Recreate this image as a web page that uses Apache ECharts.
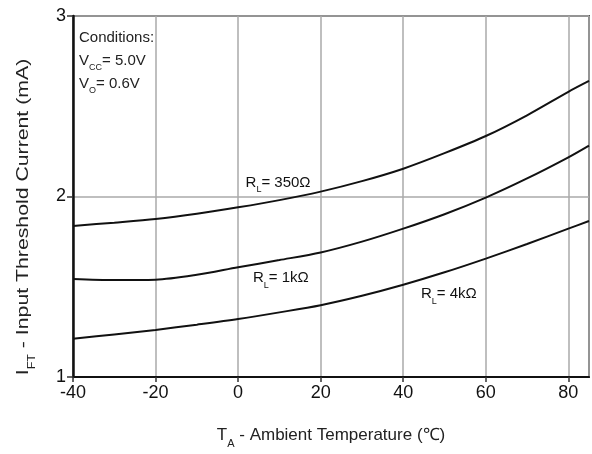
<!DOCTYPE html>
<html>
<head>
<meta charset="utf-8">
<script src="https://cdn.jsdelivr.net/npm/echarts@6/dist/echarts.min.js"></script>
<style>
html,body{margin:0;padding:0;background:#fff;}
#main{width:592px;height:454px;}
</style>
</head>
<body>
<div id="main"></div>
<script>
// temperatures (degC)
var temps = [-40, -30, -20, -10, 0, 10, 20, 30, 40, 50, 60, 70, 80, 85];
// input threshold current (mA) for each load
var rl350 = [1.837, 1.855, 1.875, 1.904, 1.940, 1.980, 2.027, 2.085, 2.154, 2.240, 2.335, 2.450, 2.580, 2.640];
var rl1k  = [1.543, 1.537, 1.539, 1.566, 1.608, 1.648, 1.690, 1.750, 1.822, 1.902, 1.994, 2.100, 2.217, 2.282];
var rl4k  = [1.212, 1.236, 1.261, 1.290, 1.321, 1.358, 1.398, 1.450, 1.511, 1.580, 1.656, 1.737, 1.822, 1.864];
// curve labels: [temp, current]
var labelText = ['{m|R}{s|L}{m|= 350\u03A9}', '{m|R}{s|L}{m|= 1k\u03A9}', '{m|R}{s|L}{m|= 4k\u03A9}'];
var labelPos = [[1.8, 2.085], [3.6, 1.555], [44.3, 1.468]];

function pairs(ys){
	var out=[];
	for(var i=0;i<temps.length;i++){ out.push([temps[i], ys[i]]); }
	return out;
}

var FONT = 'Liberation Sans';
var richTxt = {
	m: {fontSize: 15, color: '#111', fontFamily: FONT, verticalAlign: 'bottom', lineHeight: 18, textBorderWidth: 0},
	s: {fontSize: 9, color: '#111', fontFamily: FONT, verticalAlign: 'bottom', lineHeight: 18, padding: [0, 0, -4, 0], textBorderWidth: 0}
};
var richX = {
	m: {fontSize: 17, color: '#222', fontFamily: FONT, verticalAlign: 'bottom', lineHeight: 20},
	s: {fontSize: 11, color: '#222', fontFamily: FONT, verticalAlign: 'bottom', lineHeight: 20, padding: [0, 0, -5, 0]}
};

var lineStyle = {color: '#111', width: 2};
var labelData = [];
for(var k=0;k<labelPos.length;k++){
	labelData.push({value: labelPos[k], label: {formatter: labelText[k]}});
}

var myChart = echarts.init(document.getElementById('main'));
var option = {
	animation: false,
	textStyle: {fontFamily: FONT},
	grid: {left: 73, right: 3, top: 16, bottom: 70, show: true, borderColor: '#555', borderWidth: 2},
	xAxis: [{
		type: 'value',
		min: -40, max: 85, interval: 20,
		axisLine: {onZero: false, lineStyle: {color: '#111', width: 2}},
		axisTick: {show: true, length: 5, lineStyle: {color: '#333', width: 1.5}},
		axisLabel: {fontSize: 18, color: '#111', margin: 7, showMaxLabel: false, fontFamily: FONT},
		splitLine: {show: true, lineStyle: {color: '#aaa', width: 1.5}},
		name: '{m|T}{s|A}{m| - Ambient Temperature (\u2103)}',
		nameLocation: 'middle', nameGap: 47,
		nameTextStyle: {rich: richX}
	}],
	yAxis: [{
		type: 'value',
		min: 1, max: 3, interval: 1,
		axisLine: {show: true, onZero: false, lineStyle: {color: '#111', width: 2.5}},
		axisTick: {show: true, length: 6, lineStyle: {color: '#333', width: 1.5}},
		axisLabel: {fontSize: 18, color: '#111', margin: 7, fontFamily: FONT},
		splitLine: {show: true, lineStyle: {color: '#aaa', width: 1.5}}
	}],
	graphic: [{
		type: 'text', left: 79, top: 30,
		style: {
			text: '{m|Conditions:}\n{m|V}{s|CC}{m|= 5.0V}\n{m|V}{s|O}{m|= 0.6V}',
			rich: {
				m: {fontSize: 15, fill: '#222', fontFamily: FONT, lineHeight: 23, verticalAlign: 'bottom'},
				s: {fontSize: 9, fill: '#222', fontFamily: FONT, lineHeight: 23, verticalAlign: 'bottom', padding: [0, 0, -4, 0]}
			}
		}
	}, {
		// y axis title, stretched along its length like the original
		type: 'text', x: 22, y: 217, rotation: Math.PI / 2, scaleX: 1.25, scaleY: 1,
		style: {
			text: '{m|I}{s|FT}{m| - Input Threshold Current (mA)}',
			align: 'center', verticalAlign: 'middle',
			rich: {
				m: {fontSize: 17, fill: '#222', fontFamily: FONT, lineHeight: 20, verticalAlign: 'bottom'},
				s: {fontSize: 10, fill: '#222', fontFamily: FONT, lineHeight: 20, verticalAlign: 'bottom', padding: [0, 0, -5, 0]}
			}
		}
	}],
	series: [
		{name: '350', type: 'line', smooth: 0.3, symbol: 'none', lineStyle: lineStyle, data: pairs(rl350)},
		{name: '1k', type: 'line', smooth: 0.3, symbol: 'none', lineStyle: lineStyle, data: pairs(rl1k)},
		{name: '4k', type: 'line', smooth: 0.3, symbol: 'none', lineStyle: lineStyle, data: pairs(rl4k)},
		{
			type: 'scatter', symbolSize: 0, silent: true,
			itemStyle: {opacity: 1},
			label: {show: true, position: 'right', distance: 0, color: '#111', textBorderWidth: 0, rich: richTxt},
			data: labelData
		}
	]
};
myChart.setOption(option);
</script>
</body>
</html>
